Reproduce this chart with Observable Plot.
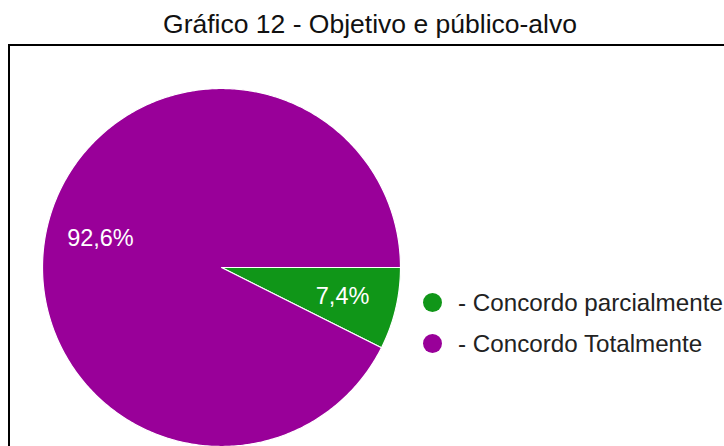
<!DOCTYPE html>
<html>
<head>
<meta charset="utf-8">
<script src="https://cdn.jsdelivr.net/npm/d3@7"></script>
<script src="https://cdn.jsdelivr.net/npm/@observablehq/plot@0.6"></script>
<style>
  html, body { margin: 0; padding: 0; background: #fff; }
  #wrap { position: relative; width: 724px; height: 446px; overflow: hidden; font-family: "Liberation Sans", Arial, sans-serif; }
  #title { position: absolute; left: 0; top: 11px; width: 740px; text-align: center; font-size: 26.5px; line-height: 26.5px; color: #111; white-space: nowrap; }
  #box { position: absolute; left: 8px; top: 44px; width: 800px; height: 500px; border-top: 2px solid #000; border-left: 2px solid #000; }
  #chart { position: absolute; left: 0; top: 0; }
  #legend { position: absolute; left: 423px; top: 282px; }
  .item { display: flex; align-items: center; height: 41px; font-size: 24.2px; color: #222; white-space: nowrap; }
  .sw { width: 19px; height: 19px; border-radius: 50%; margin-right: 16px; }
</style>
</head>
<body>
<div id="wrap">
  <div id="box"></div>
  <div id="title"></div>
  <div id="chart"></div>
  <div id="legend"></div>
</div>
<script>
const title = "Gráfico 12 - Objetivo e público-alvo";
const categories = ["Concordo parcialmente", "Concordo Totalmente"];
const values = [7.4, 92.6];
const labels = ["7,4%", "92,6%"];
const colors = ["#109618", "#990099"];

document.getElementById("title").textContent = title;

// build slice polygons (clockwise from 3 o'clock)
const total = d3.sum(values);
const polys = [];
const labelPts = [];
let start = 0;
values.forEach((v, i) => {
  const sweep = v / total * 2 * Math.PI;
  const n = Math.max(8, Math.ceil(sweep * 80));
  polys.push({cat: categories[i], x: 0, y: 0});
  for (let j = 0; j <= n; j++) {
    const a = start - sweep * j / n;
    polys.push({cat: categories[i], x: Math.cos(a), y: Math.sin(a)});
  }
  polys.push({cat: categories[i], x: 0, y: 0});
  const mid = start - sweep / 2;
  labelPts.push({cat: categories[i], label: labels[i], x: 0.695 * Math.cos(mid), y: 0.695 * Math.sin(mid)});
  start -= sweep;
});

const plot = Plot.plot({
  width: 724,
  height: 446,
  margin: 0,
  x: {domain: [-1, 1], range: [42, 400], axis: null},
  y: {domain: [-1, 1], range: [446, 88], axis: null},
  color: {domain: categories, range: colors},
  style: {background: "transparent", fontFamily: "Liberation Sans, Arial, sans-serif"},
  marks: [
    Plot.line(polys, {x: "x", y: "y", z: "cat", fill: "cat", stroke: "#fff", strokeWidth: 1.2, curve: "linear-closed"}),
    Plot.text(labelPts, {x: "x", y: "y", text: "label", fill: "#fff", fontSize: 23.5})
  ]
});
plot.style.background = "transparent";
document.getElementById("chart").appendChild(plot);

const leg = document.getElementById("legend");
categories.forEach((c, i) => {
  const item = document.createElement("div");
  item.className = "item";
  const sw = document.createElement("div");
  sw.className = "sw";
  sw.style.background = colors[i];
  const t = document.createElement("span");
  t.textContent = "- " + c;
  item.appendChild(sw);
  item.appendChild(t);
  leg.appendChild(item);
});
</script>
</body>
</html>
